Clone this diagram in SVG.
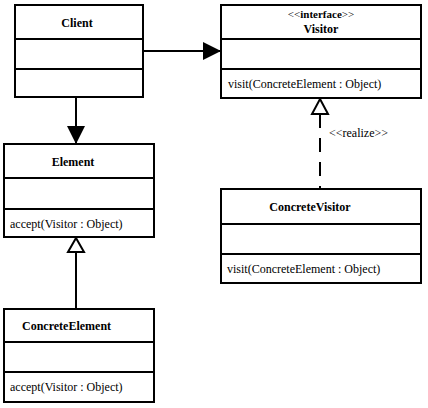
<svg xmlns="http://www.w3.org/2000/svg" width="428" height="408" viewBox="0 0 428 408">
<style>
.box{fill:#fff;stroke:#000;stroke-width:2}
.div{stroke:#000;stroke-width:2}
.t{font-family:'Liberation Serif','Times New Roman','DejaVu Serif',serif;font-size:12px;fill:#000}
.b{font-weight:bold}
.c{text-anchor:middle}
.ln{stroke:#000;stroke-width:2;fill:none}
</style>
<defs>
<marker id="fill" markerWidth="18" markerHeight="18" refX="17" refY="9" orient="auto" markerUnits="userSpaceOnUse">
<path d="M0,0 L18,9 L0,18 Z" fill="#000"/>
</marker>
</defs>
<rect width="428" height="408" fill="#fff"/>
<g id="connectors">
<line class="ln" x1="143" y1="51" x2="220" y2="51" marker-end="url(#fill)"/>
<line class="ln" x1="76" y1="97" x2="76" y2="143" marker-end="url(#fill)"/>
<line class="ln" x1="76" y1="252" x2="76" y2="309"/>
<path class="ln" d="M76,238 L84,252 L68,252 Z" fill="#fff"/>
<line class="ln" x1="320" y1="114" x2="320" y2="189" stroke-dasharray="14,10"/>
<path class="ln" d="M320,99 L328,114 L312,114 Z" fill="#fff"/>
<text class="t" x="329" y="137" font-family="Liberation Serif, serif">&lt;&lt;realize&gt;&gt;</text>
</g>
<g id="client">
<rect class="box" x="15" y="5" width="128" height="92"/>
<line class="div" x1="15" y1="39" x2="143" y2="39"/>
<line class="div" x1="15" y1="69" x2="143" y2="69"/>
<text class="t b c" x="77" y="27">Client</text>
</g>
<g id="visitor">
<rect class="box" x="221" y="5" width="200" height="93"/>
<line class="div" x1="221" y1="39" x2="421" y2="39"/>
<line class="div" x1="221" y1="69" x2="421" y2="69"/>
<text class="t c" x="321" y="18" style="font-size:11px">&lt;&lt;<tspan class="b">interface</tspan>&gt;&gt;</text>
<text class="t b c" x="321" y="33">Visitor</text>
<text class="t" x="228" y="88">visit(ConcreteElement : Object)</text>
</g>
<g id="element">
<rect class="box" x="4" y="144" width="150" height="93"/>
<line class="div" x1="4" y1="178" x2="154" y2="178"/>
<line class="div" x1="4" y1="209" x2="154" y2="209"/>
<text class="t b c" x="73" y="166">Element</text>
<text class="t" x="10" y="228">accept(Visitor : Object)</text>
</g>
<g id="concreteVisitor">
<rect class="box" x="221" y="189" width="200" height="94"/>
<line class="div" x1="221" y1="224" x2="421" y2="224"/>
<line class="div" x1="221" y1="254" x2="421" y2="254"/>
<text class="t b c" x="310" y="211">ConcreteVisitor</text>
<text class="t" x="227" y="273">visit(ConcreteElement : Object)</text>
</g>
<g id="concreteElement">
<rect class="box" x="4" y="309" width="150" height="93"/>
<line class="div" x1="4" y1="342" x2="154" y2="342"/>
<line class="div" x1="4" y1="372" x2="154" y2="372"/>
<text class="t b" x="22" y="330">ConcreteElement</text>
<text class="t" x="10" y="391">accept(Visitor : Object)</text>
</g>
</svg>
